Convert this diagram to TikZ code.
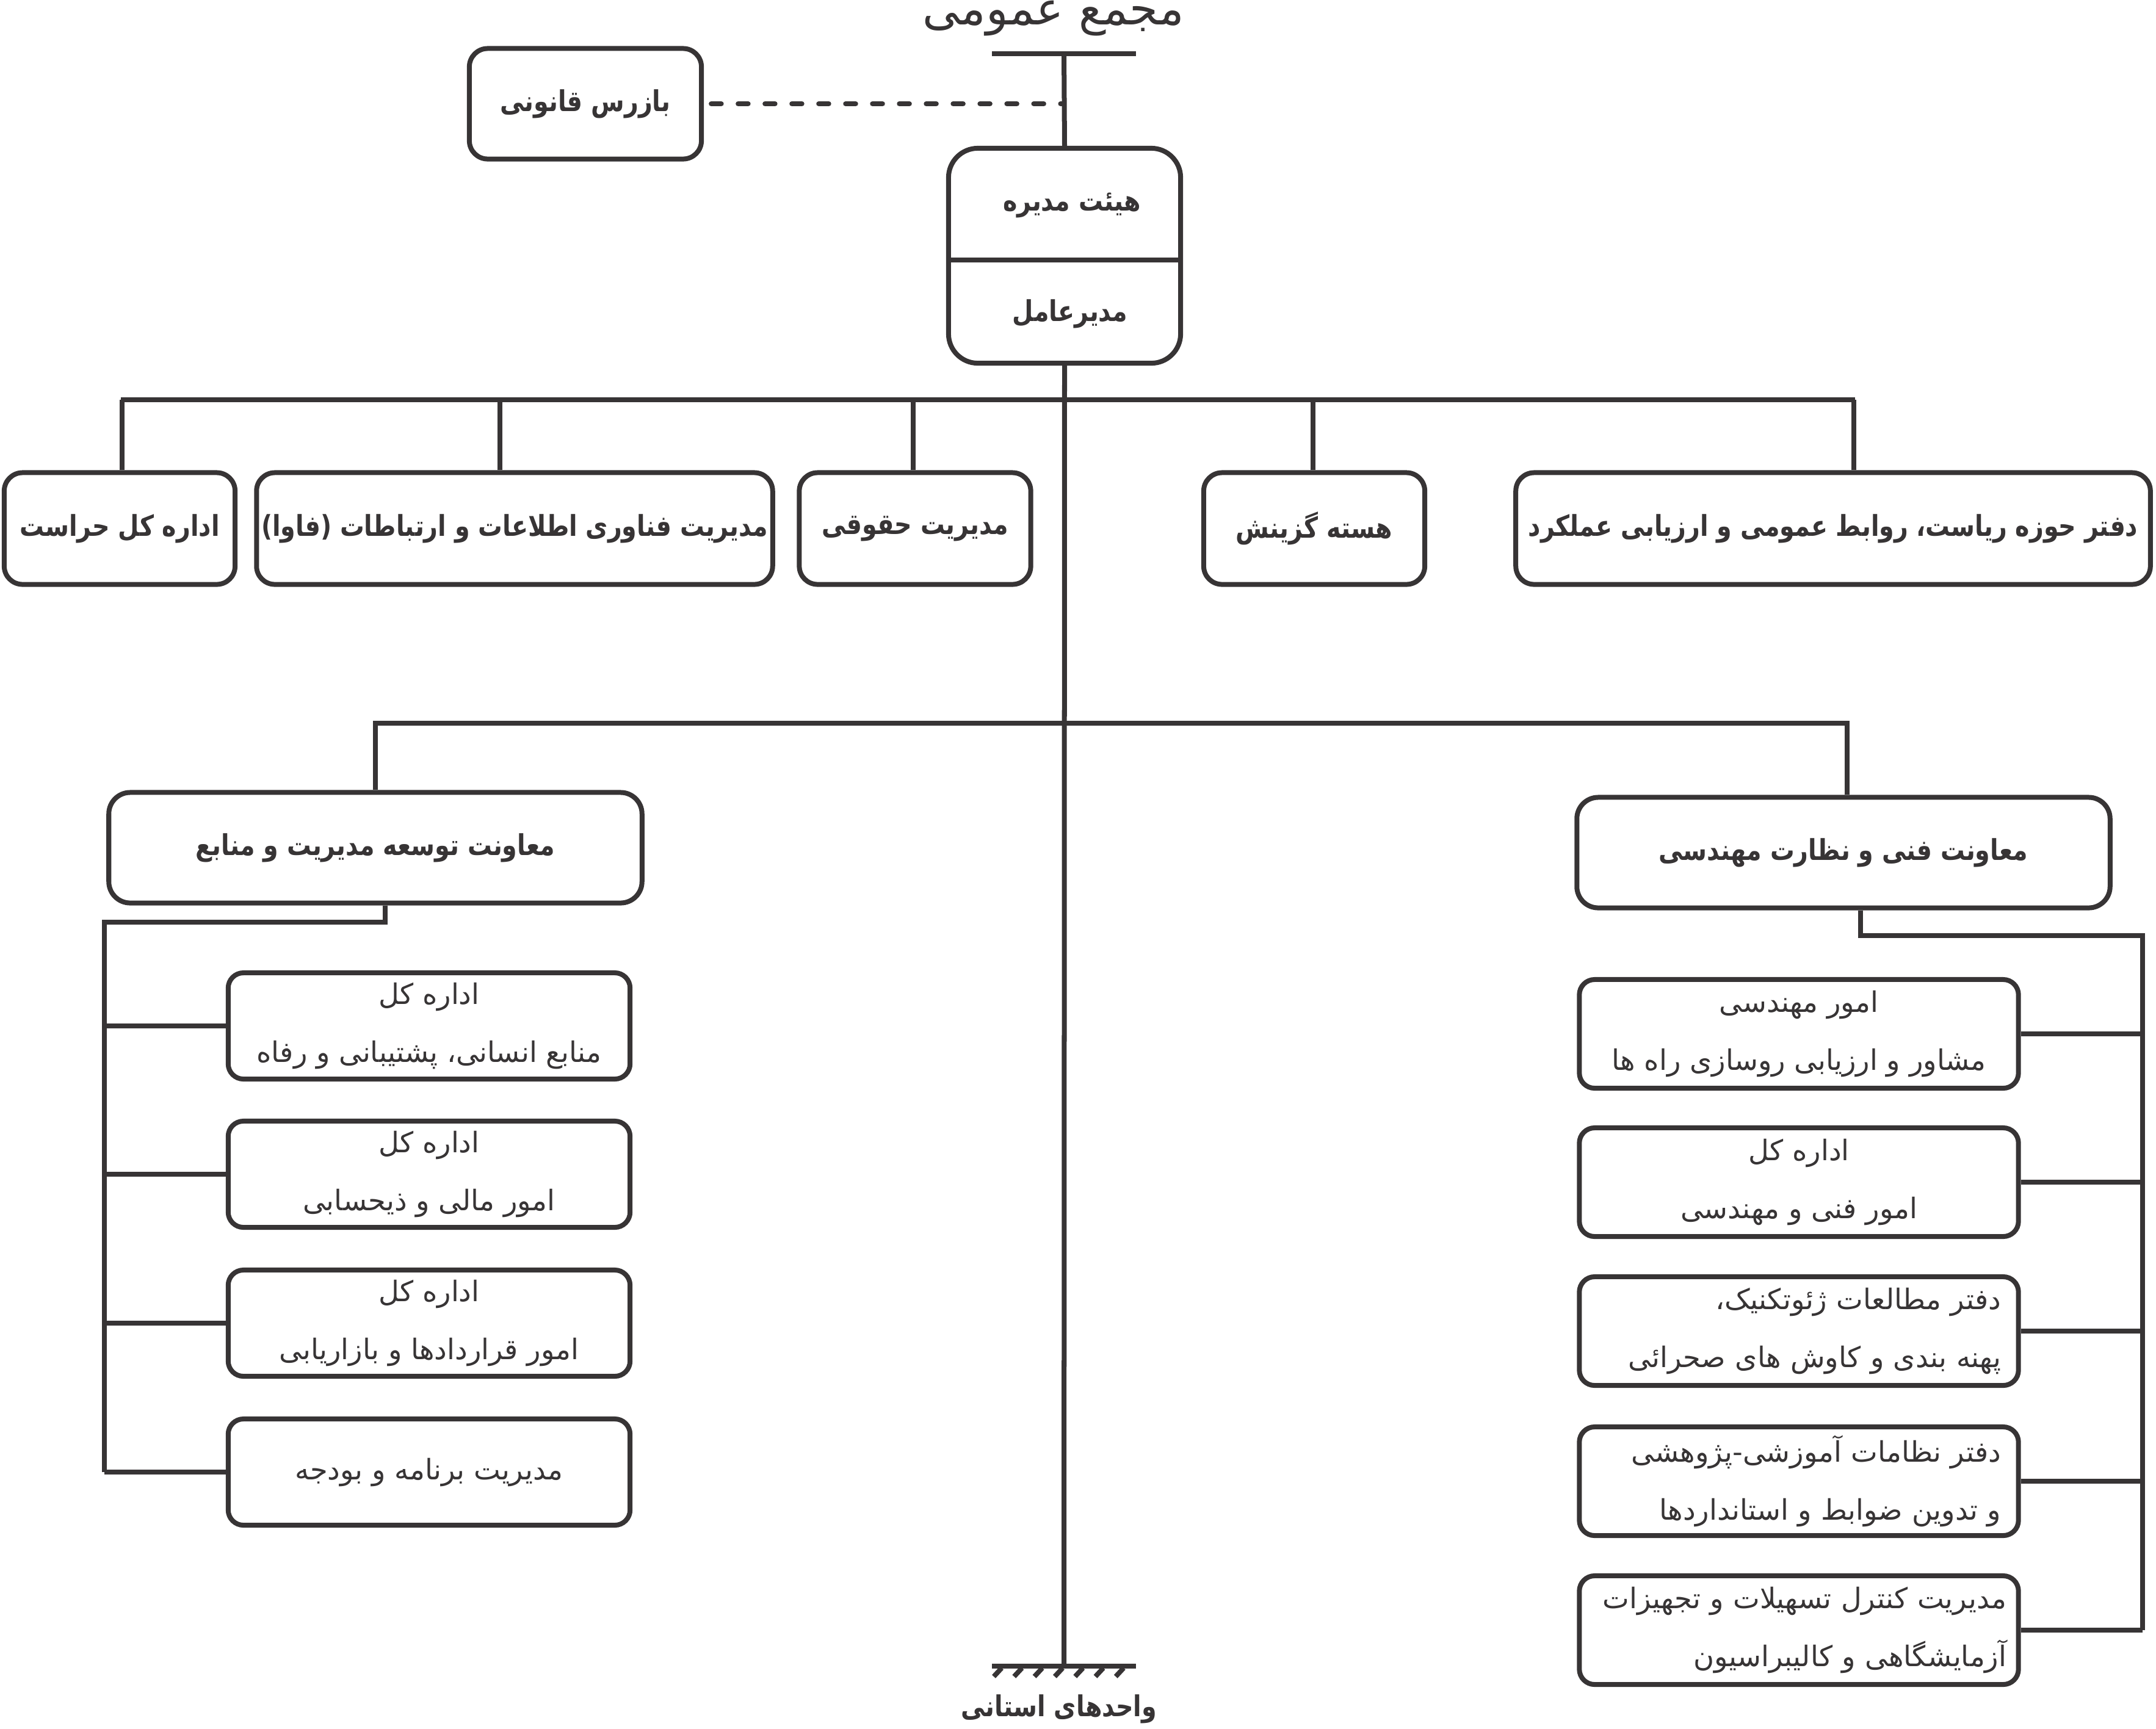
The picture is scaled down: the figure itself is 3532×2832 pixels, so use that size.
\documentclass[tikz,border=0pt]{standalone}
\usepackage{fontspec}
\usepackage{tikz}
\usepackage{xcolor}
\newfontfamily\arabicfont[Script=Arabic, BoldFeatures={FakeStretch=0.84}]{DejaVu Sans}
\TeXXeTstate=1
\newcommand{\fa}[1]{\beginR #1\endR}
\definecolor{ink}{HTML}{373435}

\begin{document}
\begin{tikzpicture}[
  x=0.01cm, y=-0.01cm,
  color=ink, line width=0.08cm,
  unit/.style={draw, fill=white, rounded corners=0.3cm, inner sep=0pt,
               align=center, font=\arabicfont\bfseries\fontsize{13.4}{27}\selectfont},
  headtext/.style={inner sep=0pt, font=\arabicfont\bfseries\fontsize{13.4}{27}\selectfont},
  topbox/.style={unit, minimum height=1.83cm},
  vpbox/.style={unit, rounded corners=0.35cm, minimum width=8.73cm, minimum height=1.81cm},
  leftbox/.style={unit, rounded corners=0.25cm, minimum width=6.58cm, minimum height=1.74cm,
                  font=\arabicfont\fontsize{13.2}{27}\selectfont},
  rightbox/.style={leftbox, minimum width=7.19cm, minimum height=1.78cm},
]
\useasboundingbox (0,0) rectangle (3532,2832);

\node[anchor=base, inner sep=0pt, font=\arabicfont\fontsize{21.5}{26}\selectfont]
  (assembly) at (1726,40) {\fa{مجمع عمومی}};
\node[unit, minimum width=3.80cm, minimum height=1.81cm] (auditor) at (959,170) {\fa{بازرس قانونی}};
\node[unit, rounded corners=0.48cm, minimum width=3.80cm, minimum height=3.52cm] (board) at (1744,419) {};
\node[headtext] (boardtop) at (1756,336) {\fa{هیئت مدیره}};
\node[headtext] (boardbot) at (1753,514) {\fa{مدیرعامل}};

\node[topbox, minimum width=3.78cm] (guard) at (196,866) {\fa{اداره کل حراست}};
\node[topbox, minimum width=8.45cm] (ict) at (843,866) {\fa{مدیریت فناوری اطلاعات و ارتباطات (فاوا)}};
\node[topbox, minimum width=3.79cm] (legal) at (1499,866) {\fa{مدیریت حقوقی}};
\node[topbox, minimum width=3.62cm] (recruit) at (2153,866) {\fa{هسته گزینش}};
\node[topbox, minimum width=10.39cm] (chair) at (3003,866) {\fa{دفتر حوزه ریاست، روابط عمومی و ارزیابی عملکرد}};

\node[vpbox] (vpres) at (615,1389) {\fa{معاونت توسعه مدیریت و منابع}};
\node[vpbox] (vptech) at (3020,1397) {\fa{معاونت فنی و نظارت مهندسی}};

\node[leftbox] (hr) at (703,1681) {\fa{اداره کل}\\\fa{منابع انسانی، پشتیبانی و رفاه}};
\node[leftbox] (finance) at (703,1924) {\fa{اداره کل}\\\fa{امور مالی و ذیحسابی}};
\node[leftbox] (contracts) at (703,2168) {\fa{اداره کل}\\\fa{امور قراردادها و بازاریابی}};
\node[leftbox] (budget) at (703,2412) {\fa{مدیریت برنامه و بودجه}};

\node[rightbox] (roads) at (2947,1694) {\fa{امور مهندسی}\\\fa{مشاور و ارزیابی روسازی راه ها}};
\node[rightbox] (techaff) at (2947,1937) {\fa{اداره کل}\\\fa{امور فنی و مهندسی}};
\node[rightbox, text width=6.62cm, align=right] (geotech) at (2947,2181) {\fa{دفتر مطالعات ژئوتکنیک،}\\\fa{پهنه بندی و کاوش های صحرائی}};
\node[rightbox, text width=6.62cm, align=right] (research) at (2947,2427) {\fa{دفتر نظامات آموزشی-پژوهشی}\\\fa{و تدوین ضوابط و استانداردها}};
\node[rightbox, text width=6.80cm, align=right] (labs) at (2947,2671) {\fa{مدیریت کنترل تسهیلات و تجهیزات}\\\fa{آزمایشگاهی و کالیبراسیون}};

\coordinate (bartop) at (1743,88);
\coordinate (gnd) at (1743,2730);
\draw (bartop) ++(-118,0) -- ++(236,0);
\draw (bartop) -- (board.north);
\draw ([yshift=-0.07cm]board.west) -- ([yshift=-0.07cm]board.east);
\draw[dash pattern=on 0.165cm off 0.275cm, line cap=round] ([xshift=0.12cm]auditor.east) -- (auditor.east -| bartop);
\draw (board.south) -- (gnd);

\draw (198,655) -- (3039,655);
\foreach \n/\x in {guard/200, ict/819, legal/1496, recruit/2151, chair/3037} {
  \coordinate (d\n) at (\x,655);
  \draw (d\n) -- (d\n |- \n.north);
}

\coordinate (midL) at (615,1185);
\coordinate (midR) at (3026,1185);
\draw (midL |- vpres.north) -- (midL) -- (midR) -- (midR |- vptech.north);

\coordinate (ltap) at (631,1511);
\coordinate (lspine) at (171,1511);
\draw (ltap |- vpres.south) -- (ltap) -- (lspine) -- (lspine |- budget.west);
\foreach \n in {hr, finance, contracts, budget}
  \draw (lspine |- \n.west) -- (\n.west);

\coordinate (rtap) at (3048,1533);
\coordinate (rspine) at (3510,1533);
\draw (rtap |- vptech.south) -- (rtap) -- (rspine) -- (rspine |- labs.east);
\foreach \n in {roads, techaff, geotech, research, labs}
  \draw (rspine |- \n.east) -- (\n.east);

\draw (gnd) ++(-118,0) -- ++(236,0);
\foreach \k in {0,...,6}
  \draw (1641+33.3*\k,2733) -- ++(-13,14);
\node[headtext, anchor=base] (provinces) at (1735,2812) {\fa{واحدهای استانی}};
\end{tikzpicture}
\end{document}
